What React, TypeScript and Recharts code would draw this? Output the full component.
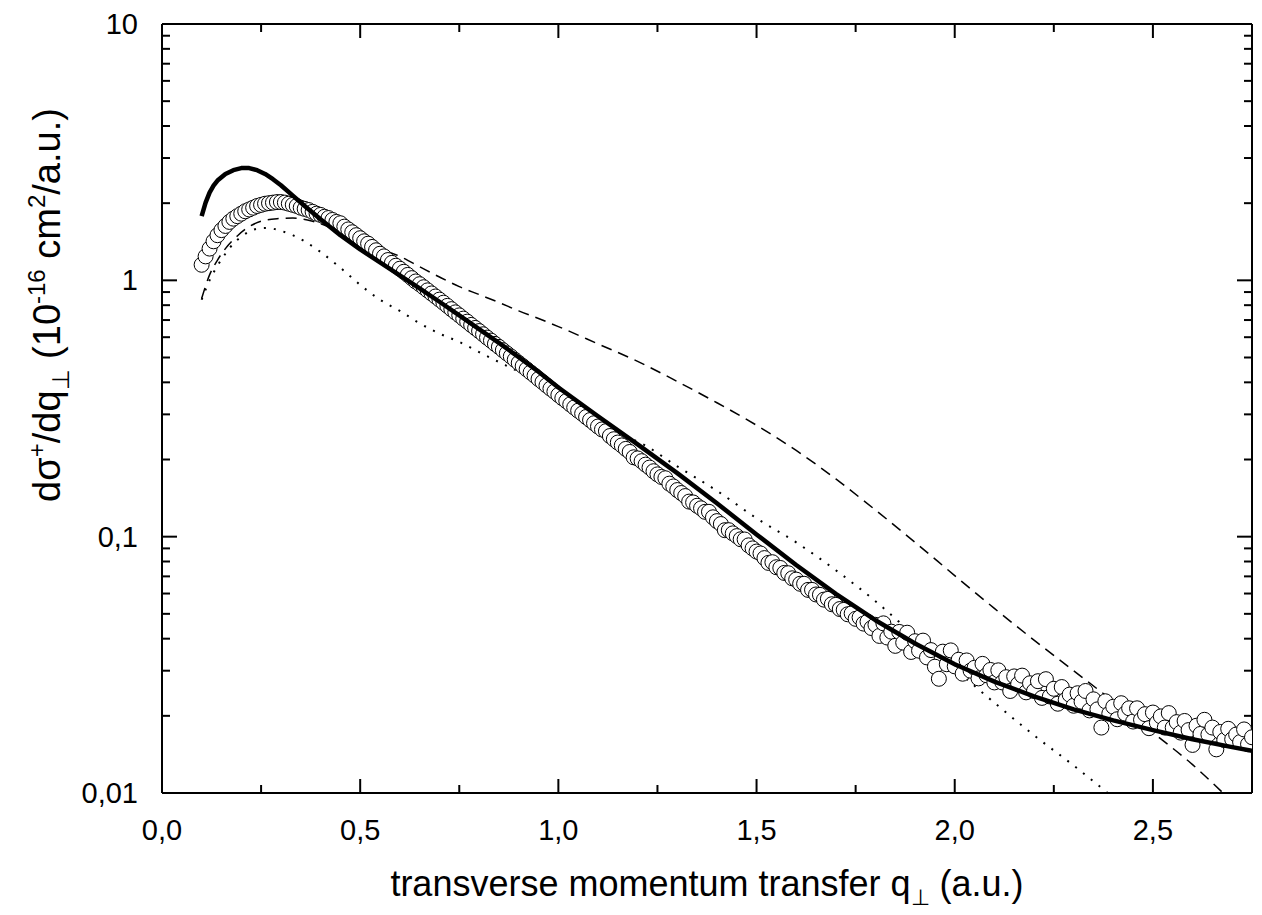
import React from 'react'
import { ComposedChart, Line, Scatter, XAxis, YAxis } from 'recharts'

// measured cross sections, 10^-16 cm^2/a.u.
const expQ = [
  0.10, 0.11, 0.12, 0.13, 0.14, 0.15, 0.16, 0.17, 0.18, 0.19,
  0.20, 0.21, 0.22, 0.23, 0.24, 0.25, 0.26, 0.27, 0.28, 0.29,
  0.30, 0.31, 0.32, 0.33, 0.34, 0.35, 0.36, 0.37, 0.38, 0.39,
  0.40, 0.41, 0.42, 0.43, 0.44, 0.45, 0.46, 0.47, 0.48, 0.49,
  0.50, 0.51, 0.52, 0.53, 0.54, 0.55, 0.56, 0.57, 0.58, 0.59,
  0.60, 0.61, 0.62, 0.63, 0.64, 0.65, 0.66, 0.67, 0.68, 0.69,
  0.70, 0.71, 0.72, 0.73, 0.74, 0.75, 0.76, 0.77, 0.78, 0.79,
  0.80, 0.81, 0.82, 0.83, 0.84, 0.85, 0.86, 0.87, 0.88, 0.89,
  0.90, 0.91, 0.92, 0.93, 0.94, 0.95, 0.96, 0.97, 0.98, 0.99,
  1.00, 1.01, 1.02, 1.03, 1.04, 1.05, 1.06, 1.07, 1.08, 1.09,
  1.10, 1.11, 1.12, 1.13, 1.14, 1.15, 1.16, 1.17, 1.18, 1.19,
  1.20, 1.21, 1.22, 1.23, 1.24, 1.25, 1.26, 1.27, 1.28, 1.29,
  1.30, 1.31, 1.32, 1.33, 1.34, 1.35, 1.36, 1.37, 1.38, 1.39,
  1.40, 1.41, 1.42, 1.43, 1.44, 1.45, 1.46, 1.47, 1.48, 1.49,
  1.50, 1.51, 1.52, 1.53, 1.54, 1.55, 1.56, 1.57, 1.58, 1.59,
  1.60, 1.61, 1.62, 1.63, 1.64, 1.65, 1.66, 1.67, 1.68, 1.69,
  1.70, 1.71, 1.72, 1.73, 1.74, 1.75, 1.76, 1.77, 1.78, 1.79,
  1.80, 1.81, 1.82, 1.83, 1.84, 1.85, 1.86, 1.87, 1.88, 1.89,
  1.90, 1.91, 1.92, 1.93, 1.94, 1.95, 1.96, 1.97, 1.98, 1.99,
  2.00, 2.01, 2.02, 2.03, 2.04, 2.05, 2.06, 2.07, 2.08, 2.09,
  2.10, 2.11, 2.12, 2.13, 2.14, 2.15, 2.16, 2.17, 2.18, 2.19,
  2.20, 2.21, 2.22, 2.23, 2.24, 2.25, 2.26, 2.27, 2.28, 2.29,
  2.30, 2.31, 2.32, 2.33, 2.34, 2.35, 2.36, 2.37, 2.38, 2.39,
  2.40, 2.41, 2.42, 2.43, 2.44, 2.45, 2.46, 2.47, 2.48, 2.49,
  2.50, 2.51, 2.52, 2.53, 2.54, 2.55, 2.56, 2.57, 2.58, 2.59,
  2.60, 2.61, 2.62, 2.63, 2.64, 2.65, 2.66, 2.67, 2.68, 2.69,
  2.70, 2.71, 2.72, 2.73, 2.74, 2.75,
]
const expSigma = [
  1.15, 1.24, 1.33, 1.42, 1.50, 1.57, 1.63, 1.69, 1.74, 1.78,
  1.82, 1.86, 1.89, 1.92, 1.95, 1.97, 1.99, 2.00, 2.01, 2.02,
  2.02, 2.01, 1.99, 1.97, 1.95, 1.92, 1.90, 1.88, 1.85, 1.82,
  1.80, 1.77, 1.75, 1.72, 1.69, 1.67, 1.62, 1.58, 1.54, 1.50,
  1.46, 1.42, 1.39, 1.35, 1.31, 1.27, 1.24, 1.20, 1.17, 1.14,
  1.11, 1.08, 1.05, 1.02, 0.99, 0.966, 0.94, 0.914, 0.889, 0.865,
  0.841, 0.818, 0.795, 0.772, 0.750, 0.730, 0.709, 0.690, 0.670, 0.652,
  0.634, 0.616, 0.598, 0.582, 0.565, 0.550, 0.534, 0.519, 0.505, 0.490,
  0.476, 0.463, 0.450, 0.437, 0.425, 0.412, 0.401, 0.389, 0.378, 0.368,
  0.357, 0.347, 0.338, 0.328, 0.319, 0.310, 0.302, 0.293, 0.285, 0.277,
  0.269, 0.262, 0.258, 0.247, 0.240, 0.233, 0.227, 0.220, 0.214, 0.204,
  0.202, 0.197, 0.191, 0.186, 0.180, 0.175, 0.171, 0.169, 0.161, 0.157,
  0.152, 0.148, 0.144, 0.137, 0.136, 0.132, 0.129, 0.125, 0.125, 0.119,
  0.115, 0.112, 0.106, 0.106, 0.103, 0.1005, 0.0977, 0.0975, 0.0925, 0.0900,
  0.0875, 0.0860, 0.0825, 0.0790, 0.0795, 0.0760, 0.0755, 0.0722, 0.0720, 0.0688,
  0.0680, 0.0655, 0.0655, 0.0620, 0.0620, 0.0595, 0.0593, 0.0568, 0.0572, 0.0545,
  0.0542, 0.0522, 0.0518, 0.0498, 0.0502, 0.0478, 0.0484, 0.0458, 0.0466, 0.0440,
  0.0453, 0.0410, 0.0459, 0.0404, 0.0426, 0.0375, 0.0425, 0.0386, 0.0422, 0.0355,
  0.0391, 0.0359, 0.0393, 0.0338, 0.0361, 0.0311, 0.0279, 0.0356, 0.0318, 0.0360,
  0.0312, 0.0331, 0.0292, 0.0329, 0.0300, 0.0308, 0.0280, 0.0319, 0.0288, 0.0302,
  0.0270, 0.0301, 0.0270, 0.0283, 0.0250, 0.0285, 0.0266, 0.0287, 0.0247, 0.0268,
  0.0250, 0.0273, 0.0235, 0.0278, 0.0238, 0.0255, 0.0223, 0.0259, 0.0231, 0.0242,
  0.0219, 0.0245, 0.0227, 0.0250, 0.0210, 0.0232, 0.0212, 0.0180, 0.0228, 0.0204,
  0.0217, 0.0194, 0.0224, 0.0204, 0.0214, 0.0190, 0.0214, 0.0193, 0.0203, 0.0179,
  0.0206, 0.0188, 0.0199, 0.0180, 0.0205, 0.0180, 0.0189, 0.0172, 0.0191, 0.0176,
  0.0154, 0.0183, 0.0170, 0.0193, 0.0169, 0.0180, 0.0148, 0.0173, 0.0161, 0.0178,
  0.0162, 0.0169, 0.0158, 0.0177, 0.0155, 0.0165,
]

// full calculation (thick solid)
const fullQ = [0.10, 0.11, 0.12, 0.13, 0.14, 0.16, 0.18, 0.20, 0.22, 0.24, 0.26, 0.28, 0.30, 0.33, 0.36,
  0.40, 0.45, 0.50, 0.55, 0.60, 0.65, 0.70, 0.75, 0.80, 0.85, 0.90, 0.95, 1.00, 1.10, 1.20,
  1.30, 1.40, 1.50, 1.60, 1.70, 1.80, 1.90, 2.00, 2.10, 2.20, 2.30, 2.40, 2.50, 2.60, 2.70, 2.75]
const fullSigma = [1.78, 2.01, 2.20, 2.34, 2.45, 2.60, 2.69, 2.74, 2.74, 2.69, 2.60, 2.48, 2.35, 2.14, 1.95,
  1.73, 1.50, 1.32, 1.175, 1.045, 0.93, 0.825, 0.73, 0.645, 0.570, 0.502, 0.440, 0.382, 0.295, 0.229,
  0.177, 0.135, 0.102, 0.0775, 0.0598, 0.0472, 0.0383, 0.0318, 0.0272, 0.0238, 0.0212, 0.0192, 0.0176, 0.0162, 0.0151, 0.0146]

// first model (dashed)
const dashQ = [0.10, 0.12, 0.14, 0.16, 0.19, 0.22, 0.25, 0.29, 0.33, 0.38, 0.45, 0.50, 0.55, 0.60, 0.65,
  0.70, 0.75, 0.80, 0.85, 0.90, 0.95, 1.00, 1.10, 1.20, 1.30, 1.40, 1.50, 1.60, 1.70, 1.80,
  1.90, 2.00, 2.10, 2.20, 2.30, 2.40, 2.50, 2.60, 2.677]
const dashSigma = [0.85, 1.05, 1.20, 1.33, 1.49, 1.62, 1.70, 1.74, 1.75, 1.70, 1.55, 1.44, 1.33, 1.24, 1.13,
  1.03, 0.945, 0.88, 0.82, 0.76, 0.71, 0.66, 0.565, 0.483, 0.403, 0.333, 0.272, 0.217, 0.168, 0.127,
  0.095, 0.0705, 0.0525, 0.0395, 0.0300, 0.0228, 0.0172, 0.0129, 0.0100]

// second model (dotted)
const dotQ = [0.10, 0.12, 0.14, 0.16, 0.18, 0.20, 0.22, 0.24, 0.26, 0.28, 0.30, 0.33, 0.36, 0.40, 0.45,
  0.50, 0.55, 0.60, 0.65, 0.70, 0.75, 0.80, 0.85, 0.90, 0.95, 1.00, 1.05, 1.10, 1.15, 1.20,
  1.30, 1.40, 1.50, 1.60, 1.70, 1.80, 1.90, 2.00, 2.10, 2.20, 2.30, 2.386]
const dotSigma = [0.84, 1.00, 1.14, 1.27, 1.39, 1.48, 1.55, 1.59, 1.60, 1.59, 1.56, 1.50, 1.42, 1.29, 1.12,
  0.96, 0.84, 0.76, 0.68, 0.62, 0.575, 0.525, 0.48, 0.44, 0.395, 0.355, 0.315, 0.28, 0.25, 0.235,
  0.188, 0.151, 0.118, 0.095, 0.074, 0.056, 0.041, 0.0305, 0.0225, 0.0168, 0.0128, 0.0100]

const xTicks = [0, 0.25, 0.5, 0.75, 1, 1.25, 1.5, 1.75, 2, 2.25, 2.5, 2.75]
const yTicks = [
  0.01, 0.02, 0.03, 0.04, 0.05, 0.06, 0.07, 0.08, 0.09,
  0.1, 0.2, 0.3, 0.4, 0.5, 0.6, 0.7, 0.8, 0.9,
  1, 2, 3, 4, 5, 6, 7, 8, 9, 10,
]
const yLabels: Record<string, string> = { '0.01': '0,01', '0.1': '0,1', '1': '1', '10': '10' }

const W = 1262
const H = 915
const L = 162
const R = 1252
const T = 24
const B = 793
const FONT = '"Liberation Sans", Arial, sans-serif'

const pairs = (qs: number[], vs: number[]) => qs.map((q, i) => ({ q, v: vs[i] }))
const expData = pairs(expQ, expSigma)
const fullData = pairs(fullQ, fullSigma)
const dashData = pairs(dashQ, dashSigma)
const dotData = pairs(dotQ, dotSigma)

const isHalf = (v: number) => Math.abs(v * 2 - Math.round(v * 2)) < 1e-6
const isDecade = (v: number) => yLabels[String(v)] !== undefined

function BottomTick(props: any) {
  const { x, payload } = props
  const major = isHalf(payload.value)
  return (
    <g>
      <line x1={x} x2={x} y1={B} y2={B - (major ? 14 : 8)} stroke="#000" strokeWidth={2} />
      {major && (
        <text x={x} y={B + 47} textAnchor="middle" fontSize={29} fontFamily={FONT} fill="#000">
          {payload.value.toFixed(1).replace('.', ',')}
        </text>
      )}
    </g>
  )
}

function TopTick(props: any) {
  const { x, payload } = props
  const major = isHalf(payload.value)
  return <line x1={x} x2={x} y1={T} y2={T + (major ? 14 : 8)} stroke="#000" strokeWidth={2} />
}

function LeftTick(props: any) {
  const { y, payload } = props
  const major = isDecade(payload.value)
  return (
    <g>
      <line x1={L} x2={L + (major ? 15 : 8)} y1={y} y2={y} stroke="#000" strokeWidth={2} />
      {major && (
        <text x={L - 24} y={y + 10} textAnchor="end" fontSize={29} fontFamily={FONT} fill="#000">
          {yLabels[String(payload.value)]}
        </text>
      )}
    </g>
  )
}

function RightTick(props: any) {
  const { y, payload } = props
  const major = isDecade(payload.value)
  return <line x1={R} x2={R - (major ? 15 : 8)} y1={y} y2={y} stroke="#000" strokeWidth={2} />
}

const Ring = (props: any) => (
  <circle cx={props.cx} cy={props.cy} r={7.5} fill="#fff" stroke="#000" strokeWidth={1} />
)
const NoMark = () => <g />

const XTitle = () => (
  <text x={(L + R) / 2} y={896} textAnchor="middle" fontSize={36} fontFamily={FONT} fill="#000">
    transverse momentum transfer q<tspan dy={9} fontSize={22}>⊥</tspan>
    <tspan dy={-9}> (a.u.)</tspan>
  </text>
)

const YTitle = () => (
  <text transform="translate(60,305) rotate(-90)" textAnchor="middle" fontSize={38} fontFamily={FONT} fill="#000">
    dσ<tspan dy={-15} fontSize={24}>+</tspan>
    <tspan dy={15}>/dq</tspan>
    <tspan dy={9} fontSize={24}>⊥</tspan>
    <tspan dy={-9}>{'  (10'}</tspan>
    <tspan dy={-15} fontSize={24}>-16</tspan>
    <tspan dy={15}> cm</tspan>
    <tspan dy={-15} fontSize={24}>2</tspan>
    <tspan dy={15}>/a.u.)</tspan>
  </text>
)

export default function App() {
  return (
    <div style={{ position: 'absolute', left: 0, top: 0, width: W, height: H, background: '#fff' }}>
      <ComposedChart width={W} height={H} margin={{ top: 0, right: 0, bottom: 0, left: 0 }}>
        <XAxis
          xAxisId="b"
          dataKey="q"
          type="number"
          domain={[0, 2.75]}
          ticks={xTicks}
          interval={0}
          height={H - B}
          tickLine={false}
          tick={<BottomTick />}
          axisLine={{ stroke: '#000', strokeWidth: 2 }}
          label={XTitle}
          allowDataOverflow
        />
        <XAxis
          xAxisId="t"
          orientation="top"
          dataKey="q"
          type="number"
          domain={[0, 2.75]}
          ticks={xTicks}
          interval={0}
          height={T}
          tickLine={false}
          tick={<TopTick />}
          axisLine={{ stroke: '#000', strokeWidth: 2 }}
          allowDataOverflow
        />
        <YAxis
          yAxisId="l"
          dataKey="v"
          type="number"
          scale="log"
          domain={[0.01, 10]}
          ticks={yTicks}
          interval={0}
          width={L}
          tickLine={false}
          tick={<LeftTick />}
          axisLine={{ stroke: '#000', strokeWidth: 2 }}
          label={YTitle}
          allowDataOverflow
        />
        <YAxis
          yAxisId="r"
          orientation="right"
          dataKey="v"
          type="number"
          scale="log"
          domain={[0.01, 10]}
          ticks={yTicks}
          interval={0}
          width={W - R}
          tickLine={false}
          tick={<RightTick />}
          axisLine={{ stroke: '#000', strokeWidth: 2 }}
          allowDataOverflow
        />
        <Line xAxisId="b" yAxisId="l" data={dashData} dataKey="v" type="monotone" stroke="#000"
          strokeWidth={1.5} strokeDasharray="11 7" dot={false} isAnimationActive={false} />
        <Line xAxisId="b" yAxisId="l" data={dotData} dataKey="v" type="monotone" stroke="#000"
          strokeWidth={2} strokeDasharray="2 8" dot={false} isAnimationActive={false} />
        <Scatter xAxisId="b" yAxisId="l" data={expData} dataKey="v" shape={Ring} isAnimationActive={false} />
        <Scatter xAxisId="b" yAxisId="l" data={fullData} dataKey="v" shape={NoMark}
          line={{ stroke: '#000', strokeWidth: 4.5, strokeLinejoin: 'round', fill: 'none' }}
          lineType="joint" isAnimationActive={false} />
      </ComposedChart>
    </div>
  )
}
